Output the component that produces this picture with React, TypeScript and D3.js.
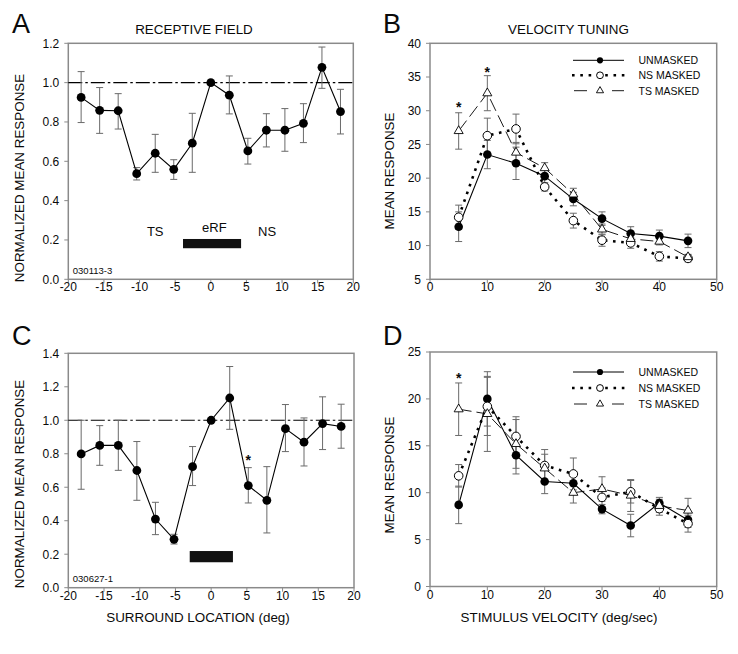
import React from 'react';
import * as d3 from 'd3';

const FONT = "'Liberation Sans', Arial, Helvetica, sans-serif";

// ---------- Data ----------
const locations = [-18.2, -15.6, -13, -10.4, -7.8, -5.2, -2.6, 0, 2.6, 5.2, 7.8, 10.4, 13, 15.6, 18.2];

const meanA = [0.925, 0.859, 0.857, 0.537, 0.641, 0.559, 0.692, 1.0, 0.936, 0.653, 0.758, 0.758, 0.793, 1.078, 0.853];
const hiA = [1.056, 0.975, 0.944, 0.568, 0.737, 0.608, 0.844, null, 1.034, 0.717, 0.842, 0.868, 0.893, 1.181, 0.966];
const loA = [0.797, 0.742, 0.764, 0.505, 0.544, 0.508, 0.544, null, 0.841, 0.586, 0.673, 0.651, 0.695, 0.971, 0.739];

const meanC = [0.799, 0.85, 0.85, 0.7, 0.41, 0.289, 0.723, 1.0, 1.133, 0.61, 0.522, 0.95, 0.869, 0.98, 0.963];
const hiC = [1.0, 0.968, 1.0, 0.873, 0.51, 0.319, 0.843, null, 1.321, 0.717, 0.723, 1.094, 1.014, 1.14, 1.096];
const loC = [0.588, 0.731, 0.701, 0.522, 0.317, 0.261, 0.61, null, 0.946, 0.506, 0.327, 0.813, 0.727, 0.825, 0.833];

const velocities = [5, 10, 15, 20, 25, 30, 35, 40, 45];

const unmaskedB = [12.8, 23.5, 22.2, 20.3, 16.9, 14.0, 11.8, 11.4, 10.7];
const unmaskedBErr = [2.2, 2.1, 2.4, 1.0, 1.0, 1.0, 1.0, 0.9, 1.0];
const nsB = [14.2, 26.3, 27.3, 18.7, 13.7, 10.8, 10.4, 8.4, 8.1];
const nsBErr = [1.8, 2.6, 2.2, 0.6, 1.1, 0.9, 0.8, 0.7, 0.5];
const tsB = [27.0, 32.6, 23.8, 21.5, 17.6, 12.4, 11.0, 10.6, 8.3];
const tsBErr = [2.7, 2.6, 1.5, 0.8, 0.9, 0.8, 0.7, 0.5, 0.4];

const unmaskedD = [8.7, 20.0, 14.0, 11.2, 11.0, 8.25, 6.5, 8.9, 7.1];
const unmaskedDErr = [2.0, 2.9, 2.0, 1.3, 1.0, 0.5, 1.2, 0.6, 0.8];
const nsD = [11.8, 19.2, 16.0, 12.9, 12.0, 9.5, 10.1, 8.3, 6.7];
const nsDErr = [1.2, 3.1, 2.1, 1.7, 1.7, 1.0, 1.2, 0.7, 0.9];
const tsD = [18.9, 18.4, 15.2, 12.6, 10.0, 10.4, 9.7, 8.6, 8.1];
const tsDErr = [2.8, 4.0, 2.6, 1.5, 1.1, 1.3, 1.7, 0.7, 1.3];

const locTicks = [-20, -15, -10, -5, 0, 5, 10, 15, 20];
const ticksA = [0, 0.2, 0.4, 0.6, 0.8, 1.0, 1.2];
const ticksC = [0, 0.2, 0.4, 0.6, 0.8, 1.0, 1.2, 1.4];
const velTicks = [0, 10, 20, 30, 40, 50];
const ticksB = [5, 10, 15, 20, 25, 30, 35, 40];
const ticksD = [0, 5, 10, 15, 20, 25];

const legendLabels = ['UNMASKED', 'NS MASKED', 'TS MASKED'];
const starsB = [{ x: 5, y: 31.0 }, { x: 10, y: 36.2 }];
const starsC = [{ x: 5.2, y: 0.78 }];
const starsD = [{ x: 5, y: 22.6 }];
const erfA = { x0: -3.9, x1: 4.25, y0: 0.158, y1: 0.205 };
const erfC = { x0: -3.0, x1: 3.05, y0: 0.152, y1: 0.219 };
const zoneLabelsA = [
  { text: 'TS', x: -7.8, y: 0.222 },
  { text: 'eRF', x: 0.5, y: 0.239 },
  { text: 'NS', x: 7.9, y: 0.222 },
];
const refLevel = 1.0;

// ---------- Layout ----------
type Box = { l: number; r: number; t: number; b: number };
const boxA: Box = { l: 68.3, r: 353.3, t: 43.3, b: 279.3 };
const boxB: Box = { l: 430, r: 716.7, t: 43.3, b: 279.3 };
const boxC: Box = { l: 68.3, r: 354, t: 353.3, b: 587.7 };
const boxD: Box = { l: 430, r: 716.7, t: 352, b: 586.5 };

const AXIS_COLOR = '#8a8a8a';
const ERR_COLOR = '#6a6a6a';
const INK = '#0a0a0a';

function Axes({ box, x, y, xTicks, yTicks, yFmt }: any) {
  return (
    <g>
      <rect x={box.l} y={box.t} width={box.r - box.l} height={box.b - box.t} fill="none" stroke={AXIS_COLOR} strokeWidth={1.5} />
      {xTicks.map((t: number) => (
        <g key={'x' + t}>
          <line x1={x(t)} x2={x(t)} y1={box.b} y2={box.b + 4} stroke={AXIS_COLOR} strokeWidth={1} />
          <text x={x(t)} y={box.b + 12} textAnchor="middle" fontSize={12} fontFamily={FONT} fill={INK}>{t}</text>
        </g>
      ))}
      {yTicks.map((t: number) => (
        <g key={'y' + t}>
          <line x1={box.l - 4} x2={box.l} y1={y(t)} y2={y(t)} stroke={AXIS_COLOR} strokeWidth={1} />
          <text x={box.l - 9} y={y(t) + 4.3} textAnchor="end" fontSize={12} fontFamily={FONT} fill={INK}>{yFmt(t)}</text>
        </g>
      ))}
    </g>
  );
}

function triPath(cx: number, cy: number, s: number) {
  const h = s * 0.866;
  return `M${cx},${cy - (2 * h) / 3}L${cx - s / 2},${cy + h / 3}L${cx + s / 2},${cy + h / 3}Z`;
}

function Marker({ kind, cx, cy, r }: any) {
  if (kind === 'filled') return <circle cx={cx} cy={cy} r={r} fill="#000" />;
  if (kind === 'open') return <circle cx={cx} cy={cy} r={r} fill="#fff" stroke="#000" strokeWidth={1} />;
  return <path d={triPath(cx, cy, r * 2.1)} fill="#fff" stroke="#000" strokeWidth={0.9} />;
}

function ErrBars({ xs, hi, lo, x, y }: any) {
  return (
    <g stroke={ERR_COLOR} strokeWidth={1} fill="none">
      {xs.map((v: number, i: number) => {
        if (hi[i] == null || lo[i] == null) return null;
        const px = x(v);
        return (
          <g key={i}>
            <line x1={px} x2={px} y1={y(hi[i])} y2={y(lo[i])} />
            <line x1={px - 3.5} x2={px + 3.5} y1={y(hi[i])} y2={y(hi[i])} />
            <line x1={px - 3.5} x2={px + 3.5} y1={y(lo[i])} y2={y(lo[i])} />
          </g>
        );
      })}
    </g>
  );
}

const lineStyles: any = {
  solid: { dash: undefined, width: 1.1 },
  dotted: { dash: '2.6,5.6', width: 2.6 },
  dashed: { dash: '13,5', width: 0.9 },
};

function SeriesLine({ xs, ys, x, y, style }: any) {
  const gen = d3.line<number>().x((_, i) => x(xs[i])).y((d) => y(d));
  const st = lineStyles[style];
  return <path d={gen(ys) || ''} fill="none" stroke="#000" strokeWidth={st.width} strokeDasharray={st.dash} />;
}

function Legend({ x0, x1, mx, tx, rows }: any) {
  const kinds = ['filled', 'open', 'tri'];
  return (
    <g>
      {rows.map((cy: number, i: number) => (
        <g key={i}>
          {i === 0 && <line x1={x0} x2={x1} y1={cy} y2={cy} stroke="#000" strokeWidth={1} />}
          {i === 1 && <line x1={x0 - 1} x2={x1 + 2} y1={cy} y2={cy} stroke="#000" strokeWidth={2.6} strokeDasharray="2.6,5.7" />}
          {i === 2 && (
            <g stroke="#000" strokeWidth={0.9}>
              <line x1={x0 + 1} x2={mx - 13} y1={cy} y2={cy} />
              <line x1={mx + 12} x2={x1} y1={cy} y2={cy} />
            </g>
          )}
          <Marker kind={kinds[i]} cx={mx} cy={cy} r={i === 0 ? 3.1 : 3.4} />
          <text x={tx} y={cy + 4} fontSize={10.5} fontFamily={FONT} fill={INK}>{legendLabels[i]}</text>
        </g>
      ))}
    </g>
  );
}

function Stars({ stars, x, y }: any) {
  return (
    <g>
      {stars.map((s: any, i: number) => (
        <text key={i} x={x(s.x)} y={y(s.y) + 8} textAnchor="middle" fontSize={14} fontWeight="bold" fontFamily={FONT} fill={INK}>*</text>
      ))}
    </g>
  );
}

function LocationPanel({ box, mean, hi, lo, yMax, yTicks, erf, cellId, stars, zoneLabels }: any) {
  const x = d3.scaleLinear().domain([-20, 20]).range([box.l, box.r]);
  const y = d3.scaleLinear().domain([0, yMax]).range([box.b, box.t]);
  return (
    <g>
      <Axes box={box} x={x} y={y} xTicks={locTicks} yTicks={yTicks} yFmt={d3.format('.1f')} />
      <line x1={box.l} x2={box.r} y1={y(refLevel)} y2={y(refLevel)} stroke="#000" strokeWidth={1.1} strokeDasharray="14,3,2.5,3" />
      <rect x={x(erf.x0)} y={y(erf.y1)} width={x(erf.x1) - x(erf.x0)} height={y(erf.y0) - y(erf.y1)} fill="#111" />
      {zoneLabels && zoneLabels.map((z: any) => (
        <text key={z.text} x={x(z.x)} y={y(z.y)} textAnchor="middle" fontSize={13} fontFamily={FONT} fill={INK}>{z.text}</text>
      ))}
      <text x={box.l + 4.5} y={box.b - 5.5} fontSize={9.5} fontFamily={FONT} fill={INK}>{cellId}</text>
      <ErrBars xs={locations} hi={hi} lo={lo} x={x} y={y} />
      <SeriesLine xs={locations} ys={mean} x={x} y={y} style="solid" />
      {locations.map((v, i) => <Marker key={i} kind="filled" cx={x(v)} cy={y(mean[i])} r={4.4} />)}
      {stars && <Stars stars={stars} x={x} y={y} />}
    </g>
  );
}

function VelocityPanel({ box, series, yMin, yMax, yTicks, stars, legendRows }: any) {
  const x = d3.scaleLinear().domain([0, 50]).range([box.l, box.r]);
  const y = d3.scaleLinear().domain([yMin, yMax]).range([box.b, box.t]);
  return (
    <g>
      <Axes box={box} x={x} y={y} xTicks={velTicks} yTicks={yTicks} yFmt={d3.format('d')} />
      {series.map((s: any, k: number) => (
        <ErrBars key={'e' + k} xs={velocities} hi={s.mean.map((m: number, i: number) => m + s.err[i])} lo={s.mean.map((m: number, i: number) => m - s.err[i])} x={x} y={y} />
      ))}
      {series.map((s: any, k: number) => (
        <SeriesLine key={'l' + k} xs={velocities} ys={s.mean} x={x} y={y} style={s.style} />
      ))}
      {series.map((s: any, k: number) => (
        <g key={'m' + k}>
          {velocities.map((v, i) => <Marker key={i} kind={s.kind} cx={x(v)} cy={y(s.mean[i])} r={s.kind === 'tri' ? 4.3 : 4.3} />)}
        </g>
      ))}
      <Stars stars={stars} x={x} y={y} />
      <Legend x0={573} x1={624} mx={600} tx={638.5} rows={legendRows} />
    </g>
  );
}

function YTitle({ x, y, text }: any) {
  return (
    <text transform={`translate(${x},${y}) rotate(-90)`} textAnchor="middle" fontSize={13.4} fontFamily={FONT} fill={INK}>{text}</text>
  );
}

export default function App() {
  const seriesB = [
    { mean: unmaskedB, err: unmaskedBErr, style: 'solid', kind: 'filled' },
    { mean: nsB, err: nsBErr, style: 'dotted', kind: 'open' },
    { mean: tsB, err: tsBErr, style: 'dashed', kind: 'tri' },
  ];
  const seriesD = [
    { mean: unmaskedD, err: unmaskedDErr, style: 'solid', kind: 'filled' },
    { mean: nsD, err: nsDErr, style: 'dotted', kind: 'open' },
    { mean: tsD, err: tsDErr, style: 'dashed', kind: 'tri' },
  ];
  return (
    <svg width={738} height={654} style={{ position: 'absolute', left: 0, top: 0, background: '#fff' }}>
      <rect x={0} y={0} width={738} height={654} fill="#fff" />
      {/* Panel letters */}
      <text x={12} y={33} fontSize={27} fontFamily={FONT} fill={INK}>A</text>
      <text x={383} y={33} fontSize={27} fontFamily={FONT} fill={INK}>B</text>
      <text x={12} y={345} fontSize={27} fontFamily={FONT} fill={INK}>C</text>
      <text x={383} y={345} fontSize={27} fontFamily={FONT} fill={INK}>D</text>
      {/* Titles */}
      <text x={194} y={34} textAnchor="middle" fontSize={13.4} fontFamily={FONT} fill={INK}>RECEPTIVE FIELD</text>
      <text x={568.5} y={34} textAnchor="middle" fontSize={13.4} fontFamily={FONT} fill={INK}>VELOCITY TUNING</text>
      {/* Y titles */}
      <YTitle x={23.5} y={178} text="NORMALIZED MEAN RESPONSE" />
      <YTitle x={23.5} y={484} text="NORMALIZED MEAN RESPONSE" />
      <YTitle x={394} y={171} text="MEAN RESPONSE" />
      <YTitle x={394} y={475} text="MEAN RESPONSE" />
      {/* X titles */}
      <text x={198} y={621.5} textAnchor="middle" fontSize={13.4} fontFamily={FONT} fill={INK}>SURROUND LOCATION (deg)</text>
      <text x={559} y={622} textAnchor="middle" fontSize={13.4} fontFamily={FONT} fill={INK}>STIMULUS VELOCITY (deg/sec)</text>

      <LocationPanel box={boxA} mean={meanA} hi={hiA} lo={loA} yMax={1.2} yTicks={ticksA} erf={erfA} cellId="030113-3" zoneLabels={zoneLabelsA} />
      <LocationPanel box={boxC} mean={meanC} hi={hiC} lo={loC} yMax={1.4} yTicks={ticksC} erf={erfC} cellId="030627-1" stars={starsC} />
      <VelocityPanel box={boxB} series={seriesB} yMin={5} yMax={40} yTicks={ticksB} stars={starsB} legendRows={[60.3, 75.3, 90.7]} />
      <VelocityPanel box={boxD} series={seriesD} yMin={0} yMax={25} yTicks={ticksD} stars={starsD} legendRows={[372, 388, 404]} />
    </svg>
  );
}
